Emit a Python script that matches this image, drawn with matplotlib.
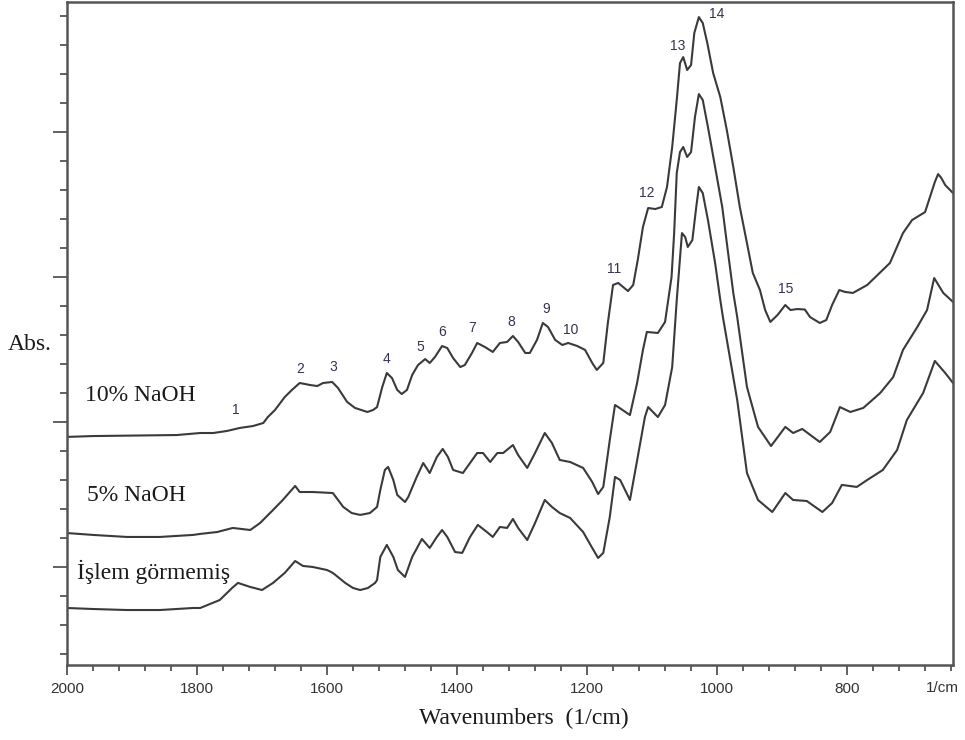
import numpy as np
import matplotlib
matplotlib.use('Agg')
import matplotlib.pyplot as plt
from matplotlib.ticker import MultipleLocator

# FTIR spectra (curves offset on one axis)
wn_10 = [2000, 1960, 1831, 1795, 1775, 1754, 1734, 1714, 1698, 1691, 1680, 1665, 1654, 1642,
         1626, 1615, 1606, 1592, 1583, 1569, 1557, 1538, 1529, 1523, 1515, 1508, 1500, 1492,
         1485, 1477, 1469, 1460, 1449, 1442, 1434, 1423, 1415, 1406, 1395, 1388, 1377, 1369,
         1357, 1345, 1334, 1323, 1314, 1306, 1295, 1288, 1277, 1268, 1260, 1249, 1238, 1229,
         1215, 1203, 1192, 1185, 1175, 1168, 1160, 1152, 1137, 1129, 1122, 1114, 1106, 1095,
         1085, 1077, 1069, 1062, 1057, 1052, 1046, 1040, 1035, 1028, 1022, 1015, 1006, 995,
         985, 975, 965, 954, 945, 934, 926, 918, 907, 895, 887, 877, 865, 857, 842, 832, 823,
         812, 803, 791, 769, 734, 714, 700, 680, 665, 660, 655, 649, 637]
abs_10 = [1.897, 1.903, 1.910, 1.924, 1.924, 1.938, 1.959, 1.972, 1.993, 2.034, 2.083, 2.172,
          2.221, 2.269, 2.255, 2.248, 2.269, 2.276, 2.234, 2.138, 2.097, 2.069, 2.083, 2.103,
          2.241, 2.338, 2.303, 2.221, 2.193, 2.221, 2.324, 2.393, 2.434, 2.407, 2.448, 2.524,
          2.510, 2.441, 2.379, 2.393, 2.476, 2.545, 2.517, 2.483, 2.545, 2.552, 2.593, 2.552,
          2.476, 2.476, 2.566, 2.683, 2.655, 2.566, 2.531, 2.545, 2.524, 2.497, 2.407, 2.359,
          2.407, 2.683, 2.945, 2.959, 2.903, 2.945, 3.117, 3.345, 3.476, 3.469, 3.483, 3.621,
          3.897, 4.221, 4.476, 4.517, 4.428, 4.462, 4.683, 4.793, 4.752, 4.614, 4.407, 4.241,
          4.014, 3.759, 3.483, 3.234, 3.028, 2.910, 2.772, 2.690, 2.738, 2.807, 2.772, 2.779,
          2.776, 2.724, 2.683, 2.703, 2.807, 2.910, 2.897, 2.890, 2.945, 3.097, 3.303, 3.393,
          3.448, 3.655, 3.710, 3.683, 3.634, 3.579]

wn_5 = [2000, 1960, 1908, 1857, 1806, 1795, 1769, 1745, 1718, 1703, 1683, 1668, 1649, 1642,
        1622, 1591, 1575, 1562, 1549, 1534, 1523, 1518, 1511, 1506, 1498, 1492, 1480, 1475,
        1462, 1452, 1442, 1431, 1422, 1414, 1406, 1391, 1380, 1369, 1360, 1349, 1338, 1329,
        1314, 1306, 1292, 1280, 1265, 1254, 1242, 1226, 1206, 1192, 1183, 1175, 1165, 1157,
        1152, 1134, 1123, 1114, 1108, 1091, 1080, 1070, 1066, 1062, 1057, 1052, 1046, 1040,
        1034, 1028, 1022, 1014, 1003, 992, 983, 975, 969, 954, 937, 917, 895, 883, 869, 842,
        826, 811, 795, 775, 749, 729, 714, 692, 677, 666, 652, 637]
abs_5 = [1.234, 1.221, 1.207, 1.207, 1.221, 1.228, 1.241, 1.269, 1.255, 1.303, 1.393, 1.462,
         1.559, 1.517, 1.517, 1.510, 1.414, 1.372, 1.359, 1.372, 1.414, 1.531, 1.669, 1.690,
         1.600, 1.497, 1.448, 1.483, 1.621, 1.717, 1.648, 1.759, 1.814, 1.759, 1.669, 1.648,
         1.717, 1.786, 1.786, 1.724, 1.786, 1.786, 1.841, 1.772, 1.683, 1.786, 1.924, 1.855,
         1.738, 1.724, 1.683, 1.586, 1.503, 1.552, 1.876, 2.117, 2.103, 2.048, 2.269, 2.497,
         2.621, 2.614, 2.690, 3.000, 3.303, 3.717, 3.862, 3.897, 3.828, 3.862, 4.103, 4.262,
         4.221, 4.034, 3.759, 3.483, 3.166, 2.890, 2.724, 2.241, 1.966, 1.834, 1.966, 1.924,
         1.952, 1.862, 1.931, 2.103, 2.069, 2.097, 2.200, 2.310, 2.497, 2.655, 2.772, 2.993,
         2.890, 2.828]

wn_raw = [2000, 1960, 1908, 1857, 1806, 1795, 1765, 1746, 1737, 1718, 1700, 1683, 1665, 1649,
          1637, 1622, 1600, 1591, 1572, 1560, 1549, 1537, 1526, 1523, 1518, 1508, 1498, 1491,
          1480, 1469, 1454, 1442, 1431, 1423, 1415, 1403, 1392, 1380, 1368, 1354, 1345, 1334,
          1323, 1314, 1306, 1292, 1280, 1265, 1254, 1242, 1226, 1206, 1192, 1183, 1175, 1165,
          1157, 1149, 1134, 1122, 1111, 1106, 1091, 1080, 1069, 1062, 1054, 1049, 1045, 1038,
          1032, 1028, 1022, 1014, 1003, 995, 991, 969, 954, 937, 915, 895, 883, 862, 838, 823,
          808, 785, 769, 745, 723, 708, 683, 665, 649, 637]
abs_raw = [0.717, 0.710, 0.703, 0.703, 0.717, 0.717, 0.772, 0.855, 0.890, 0.862, 0.841, 0.890,
           0.959, 1.041, 1.007, 1.000, 0.979, 0.959, 0.890, 0.855, 0.841, 0.855, 0.890, 0.910,
           1.069, 1.152, 1.069, 0.979, 0.931, 1.069, 1.193, 1.131, 1.207, 1.255, 1.207, 1.103,
           1.097, 1.207, 1.290, 1.241, 1.207, 1.276, 1.269, 1.331, 1.269, 1.186, 1.303, 1.462,
           1.414, 1.372, 1.338, 1.241, 1.131, 1.062, 1.097, 1.345, 1.621, 1.600, 1.462, 1.759,
           2.034, 2.103, 2.034, 2.117, 2.379, 2.841, 3.303, 3.276, 3.207, 3.255, 3.483, 3.621,
           3.579, 3.393, 3.097, 2.841, 2.724, 2.152, 1.648, 1.462, 1.379, 1.510, 1.462, 1.455,
           1.379, 1.441, 1.566, 1.552, 1.600, 1.669, 1.807, 2.014, 2.200, 2.421, 2.338, 2.269]

# peak numbers
peak_ids = ['1', '2', '3', '4', '5', '6', '7', '8', '9', '10', '11', '12', '13', '14', '15']
peak_wn = [1740, 1642, 1591, 1508, 1457, 1423, 1377, 1317, 1263, 1225, 1158, 1108, 1060, 1000, 894]
peak_y = [2.083, 2.366, 2.379, 2.434, 2.517, 2.621, 2.648, 2.690, 2.779, 2.634, 3.055, 3.579,
          4.593, 4.814, 2.917]

sample_names = ['10% NaOH', '5% NaOH', 'İşlem görmemiş']
name_wn = [1972, 1969, 1985]
name_y = [2.186, 1.490, 0.966]

serif = 'Liberation Serif'
sans = 'Liberation Sans'
line_col = '#3a3a3a'

fig = plt.figure(figsize=(9.65, 7.40), dpi=100)
ax = fig.add_axes([0.0694, 0.1014, 0.9182, 0.8959])

for wn, ab in [(wn_10, abs_10), (wn_5, abs_5), (wn_raw, abs_raw)]:
    ax.plot(wn, ab, color=line_col, lw=1.5, solid_joinstyle='round')

for t, x, y in zip(peak_ids, peak_wn, peak_y):
    ax.text(x, y, t, ha='center', va='center', fontsize=10, family=sans, color='#333355')

for t, x, y in zip(sample_names, name_wn, name_y):
    ax.text(x, y, t, ha='left', va='center', fontsize=17, family=serif, color='#1a1a1a')

ax.set_xlim(2000, 637)
ax.set_ylim(0.324, 4.897)

ax.xaxis.set_minor_locator(MultipleLocator(40))
ax.yaxis.set_major_locator(MultipleLocator(1))
ax.yaxis.set_minor_locator(MultipleLocator(0.2))
ax.set_yticklabels([])
ax.set_xticks([2000, 1800, 1600, 1400, 1200, 1000, 800])
ax.set_xticklabels(['2000', '1800', '1600', '1400', '1200', '1000', '800'],
                   family=sans, fontsize=11, color='#333333')

ax.tick_params(axis='x', which='major', length=7, width=1.3, color='#555555', pad=5)
ax.tick_params(axis='x', which='minor', length=4, width=1.3, color='#555555')
ax.tick_params(axis='y', which='major', length=10, width=1.3, color='#555555')
ax.tick_params(axis='y', which='minor', length=5, width=1.3, color='#555555')

for s in ax.spines.values():
    s.set_color('#555555')
    s.set_linewidth(1.8)

ax.text(654, -0.035, '1/cm', transform=ax.get_xaxis_transform(), ha='center', va='center',
        family=sans, fontsize=11, color='#333333')

fig.text(8 / 965, 1 - 345 / 740, 'Abs.', ha='left', va='center', family=serif, fontsize=17,
         color='#1a1a1a')
fig.text(524 / 965, 1 - 718 / 740, 'Wavenumbers  (1/cm)', ha='center', va='center',
         family=serif, fontsize=17, color='#1a1a1a')

fig.savefig('out.png', dpi=100, facecolor='white')
